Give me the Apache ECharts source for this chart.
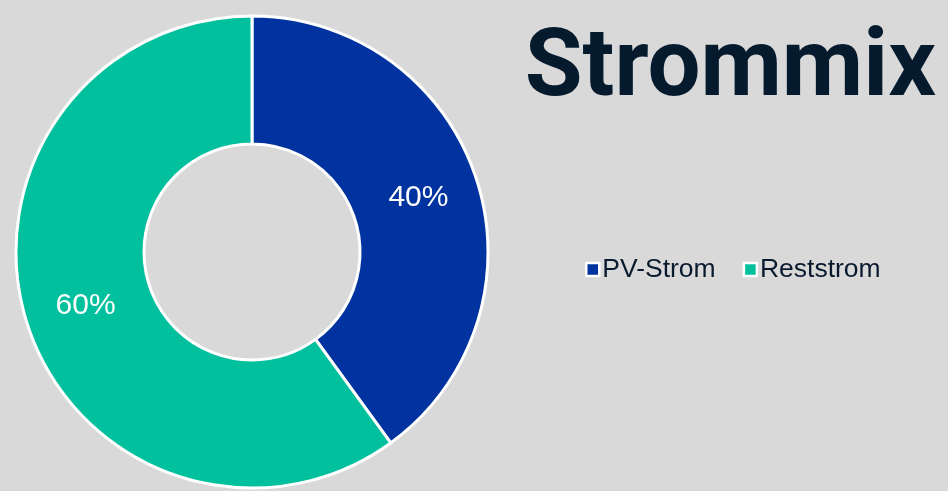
<!DOCTYPE html>
<html>
<head>
<meta charset="utf-8">
<script src="https://cdn.jsdelivr.net/npm/echarts@6/dist/echarts.min.js"></script>
<style>
  html, body { margin: 0; padding: 0; background: #d9d9d9; }
  #chart { width: 948px; height: 491px; }
</style>
</head>
<body>
<div id="chart"></div>
<script>
const categories = ['PV-Strom', 'Reststrom'];
const shares = [40, 60];
const colors = ['#0033a0', '#00c09d'];

const chart = echarts.init(document.getElementById('chart'));
chart.setOption({
  backgroundColor: '#d9d9d9',
  animation: false,
  title: {
    text: 'Strommix',
    right: 7,
    top: 19,
    textStyle: { fontFamily: 'Roboto', fontWeight: 'bold', fontSize: 94, color: '#061a2e' }
  },
  legend: {
    data: categories,
    left: 580,
    top: 251,
    itemWidth: 13,
    itemHeight: 13,
    itemGap: 27,
    icon: 'rect',
    itemStyle: { borderColor: '#fff', borderWidth: 2.5 },
    textStyle: { fontFamily: 'Liberation Sans', fontSize: 26.5, color: '#0a1a2e', padding: [0, 0, 0, -2] }
  },
  series: [{
    type: 'pie',
    center: [252, 252],
    radius: [108, 236],
    startAngle: 90,
    clockwise: true,
    itemStyle: { borderColor: '#fff', borderWidth: 3 },
    label: {
      position: 'inside',
      formatter: '{c}%',
      color: '#fff',
      fontFamily: 'Liberation Sans',
      fontSize: 30
    },
    labelLine: { show: false },
    data: categories.map((name, i) => ({ name, value: shares[i], itemStyle: { color: colors[i] } }))
  }]
});
</script>
</body>
</html>
